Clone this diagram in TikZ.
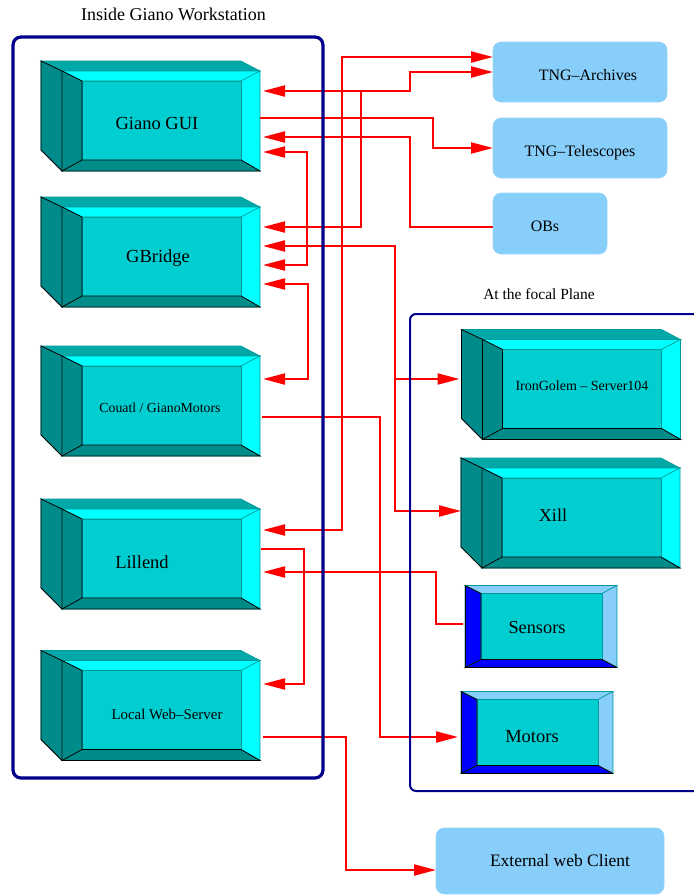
\documentclass[tikz,border=0pt]{standalone}
\usepackage{fontspec}
\setmainfont{Liberation Serif}
\newfontfamily\timesf{Liberation Serif}
\usetikzlibrary{calc,arrows.meta}
\definecolor{navyc}{HTML}{00008B}
\definecolor{redc}{HTML}{FF0000}
\definecolor{topc}{HTML}{00A8A8}
\definecolor{sidec}{HTML}{008B8B}
\definecolor{lightc}{HTML}{00FFFF}
\definecolor{innerc}{HTML}{00CED1}
\definecolor{skyc}{HTML}{87CEFA}
\definecolor{bluec}{HTML}{0000FF}
\definecolor{edgec}{HTML}{009A9A}
\newcommand{\fsz}[1]{\timesf\fontsize{#1}{#1}\selectfont}
\newcommand{\mkcube}[3]{%
  \node[cubefront] (#1) at (#2,#3) {};
  \coordinate (#1-fa) at (#1.north west);
  \coordinate (#1-fb) at (#1.north east);
  \coordinate (#1-fc) at (#1.south east);
  \coordinate (#1-fd) at (#1.south west);
  \coordinate (#1-ia) at ($(#1-fa)+(20,10)$);
  \coordinate (#1-ib) at ($(#1-fb)+(-19,10)$);
  \coordinate (#1-ic) at ($(#1-fc)+(-19,-11)$);
  \coordinate (#1-id) at ($(#1-fd)+(20,-11)$);
  \coordinate (#1-ba) at ($(#1-fa)+(-21,-10)$);
  \coordinate (#1-bb) at ($(#1-fb)+(-19,-10)$);
  \coordinate (#1-bd) at ($(#1-fd)+(-21,-21)$);
  \filldraw[facetop] (#1-ba) -- (#1-bb) -- (#1-fb) -- (#1-fa) -- cycle;
  \filldraw[faceside] (#1-ba) -- (#1-fa) -- (#1-fd) -- (#1-bd) -- cycle;
  \filldraw[facelight] (#1-fa) -- (#1-fb) -- (#1-ib) -- (#1-ia) -- cycle;
  \filldraw[facelight] (#1-fb) -- (#1-fc) -- (#1-ic) -- (#1-ib) -- cycle;
  \filldraw[faceside] (#1-fd) -- (#1-fc) -- (#1-ic) -- (#1-id) -- cycle;
  \filldraw[faceside] (#1-fa) -- (#1-ia) -- (#1-id) -- (#1-fd) -- cycle;
  \filldraw[faceinner] (#1-ia) rectangle (#1-ic);
  \draw[blackedge] (#1-ba) -- (#1-fa) -- (#1-ia) -- (#1-id) -- (#1-ic) -- (#1-fc) -- (#1-fd) -- (#1-bd) -- cycle;
  \draw[blackedge] (#1-fa) -- (#1-fd) -- (#1-id);
}
\newcommand{\mkflat}[3]{%
  \node[flatfront] (#1) at (#2,#3) {};
  \coordinate (#1-fa) at (#1.north west);
  \coordinate (#1-fb) at (#1.north east);
  \coordinate (#1-fc) at (#1.south east);
  \coordinate (#1-fd) at (#1.south west);
  \coordinate (#1-ia) at ($(#1-fa)+(16,8)$);
  \coordinate (#1-ib) at ($(#1-fb)+(-15,8)$);
  \coordinate (#1-ic) at ($(#1-fc)+(-15,-8)$);
  \coordinate (#1-id) at ($(#1-fd)+(16,-8)$);
  \filldraw[flatlight] (#1-fa) -- (#1-fb) -- (#1-ib) -- (#1-ia) -- cycle;
  \filldraw[flatlight] (#1-fb) -- (#1-fc) -- (#1-ic) -- (#1-ib) -- cycle;
  \filldraw[flatdark] (#1-fd) -- (#1-fc) -- (#1-ic) -- (#1-id) -- cycle;
  \filldraw[flatdark] (#1-fa) -- (#1-ia) -- (#1-id) -- (#1-fd) -- cycle;
  \filldraw[faceinner] (#1-ia) rectangle (#1-ic);
  \draw[blackedge] (#1-fa) -- (#1-fd) -- (#1-fc);
  \draw[blackedge] (#1-fa) -- (#1-ia) -- (#1-id) -- (#1-ic) -- (#1-fc);
  \draw[blackedge] (#1-fd) -- (#1-id);
}
\begin{document}
\begin{tikzpicture}[x=1pt,y=-1pt,
  conn/.style={draw=redc, line width=2.2pt},
  arrowone/.style={-{Triangle[length=22pt,width=11pt]}},
  arrowtwo/.style={{Triangle[length=22pt,width=11pt]}-{Triangle[length=22pt,width=11pt]}},
  cubefront/.style={minimum width=198pt, minimum height=100pt, inner sep=0pt, outer sep=0pt},
  flatfront/.style={minimum width=152pt, minimum height=82pt, inner sep=0pt, outer sep=0pt},
  lbox/.style={rounded corners=8pt, fill=skyc, draw=skyc!85!white, line width=0.6pt, inner sep=0pt, outer sep=0pt},
  lbl/.style={anchor=base, inner sep=0pt, text=black},
  facetop/.style={fill=topc, draw=edgec, line width=0.6pt},
  faceside/.style={fill=sidec, draw=edgec, line width=0.6pt},
  facelight/.style={fill=lightc, draw=edgec, line width=0.6pt},
  faceinner/.style={fill=innerc, draw=edgec, line width=0.6pt},
  flatlight/.style={fill=skyc, draw=edgec, line width=0.6pt},
  flatdark/.style={fill=bluec, draw=edgec, line width=0.6pt},
  blackedge/.style={draw=black, line width=0.8pt, line join=miter},
  frame/.style={draw=navyc, rounded corners=8pt}]
\useasboundingbox (0,0) rectangle (694,895);
\fill[white] (0,0) rectangle (694,895);

% titles
\node[lbl, font=\fsz{18}] (title1) at (173.5,20) {Inside Giano Workstation};
\node[lbl, font=\fsz{15.5}] (title2) at (539,299) {At the focal Plane};

% 3D boxes
\mkcube{gui}{161}{121}
\mkcube{gbr}{161}{257}
\mkcube{cou}{161}{406}
\mkcube{lil}{161}{559}
\mkcube{lws}{161}{710.5}
\mkcube{iron}{581.5}{389.5}
\mkcube{xill}{581}{518}
\mkflat{sens}{541}{626.5}
\mkflat{mot}{537}{732.5}

% light boxes
\node[lbox, minimum width=174pt, minimum height=60pt] (arch) at (580,72) {};
\node[lbox, minimum width=174pt, minimum height=60pt] (tel) at (580,148) {};
\node[lbox, minimum width=114pt, minimum height=61pt] (obs) at (550,223.5) {};
\node[lbox, minimum width=228pt, minimum height=66pt] (ext) at (550,861) {};

% labels
\node[lbl, font=\fsz{18.5}] (gui-t) at (157,129) {Giano GUI};
\node[lbl, font=\fsz{18.5}] (gbr-t) at (158,262.5) {GBridge};
\node[lbl, font=\fsz{13.8}] (cou-t) at (160,412.5) {Couatl / GianoMotors};
\node[lbl, font=\fsz{18.5}] (lil-t) at (142,568) {Lillend};
\node[lbl, font=\fsz{14.9}] (lws-t) at (167,719) {Local Web–Server};
\node[lbl, font=\fsz{14}] (iron-t) at (582,390.7) {IronGolem – Server104};
\node[lbl, font=\fsz{18.2}] (xill-t) at (553,521.7) {Xill};
\node[lbl, font=\fsz{18.3}] (sens-t) at (537,633.3) {Sensors};
\node[lbl, font=\fsz{18.5}] (mot-t) at (532,742.3) {Motors};
\node[lbl, font=\fsz{15.9}] (arch-t) at (588,80) {TNG–Archives};
\node[lbl, font=\fsz{16}] (tel-t) at (580,156) {TNG–Telescopes};
\node[lbl, font=\fsz{15.9}] (obs-t) at (545,231) {OBs};
\node[lbl, font=\fsz{17.5}] (ext-t) at (560,866) {External web Client};

% connectors
\draw[conn,arrowtwo] ([xshift=3,yshift=29]lil.east) -- ++(79,0) |- ([yshift=15]arch.west);
\draw[conn,arrowtwo] ([xshift=3,yshift=30]gui.east) -- ++(147,0) |- (arch.west);
\draw[conn,arrowone] ([xshift=101,yshift=30]gui.east) |- ([xshift=3,yshift=30]gbr.east);
\draw[conn,arrowone] ([yshift=3]gui.east) -- ++(173,0) |- (tel.west);
\draw[conn,arrowone] ([yshift=-3.5]obs.west) -- ++(-83,0) |- ([xshift=3,yshift=-16]gui.east);
\draw[conn,arrowtwo] ([xshift=3,yshift=-31]gui.east) -- ++(44,0) |- ([xshift=3,yshift=-8]gbr.east);
\draw[conn,arrowtwo] ([xshift=3,yshift=11]gbr.east) -- ++(132,0) |- ([xshift=-23,yshift=10.5]iron.west);
\draw[conn,arrowone] ([xshift=135,yshift=11]gbr.east) |- ([xshift=-21,yshift=7]xill.west);
\draw[conn,arrowtwo] ([xshift=3,yshift=-27]gbr.east) -- ++(45,0) |- ([xshift=3,yshift=27]cou.east);
\draw[conn,arrowone] ([xshift=2,yshift=-11]cou.east) -- ++(118,0) |- ([xshift=-3,yshift=-4.5]mot.west);
\draw[conn,arrowone] ([xshift=1,yshift=10]lil.east) -- ++(43,0) |- ([xshift=3,yshift=26.5]lws.east);
\draw[conn,arrowone] ([xshift=-2,yshift=2.5]sens.west) -- ++(-27,0) |- ([xshift=3,yshift=-13]lil.east);
\draw[conn,arrowone] ([xshift=3,yshift=-26.5]lws.east) -- ++(83,0) |- ([yshift=-9]ext.west);

% containers
\draw[frame, line width=3.2pt] (13,37) rectangle (323,778);
\draw[frame, line width=2pt, rounded corners=6pt] (700,314) -- (410,314) -- (410,791) -- (700,791);
\end{tikzpicture}
\end{document}
